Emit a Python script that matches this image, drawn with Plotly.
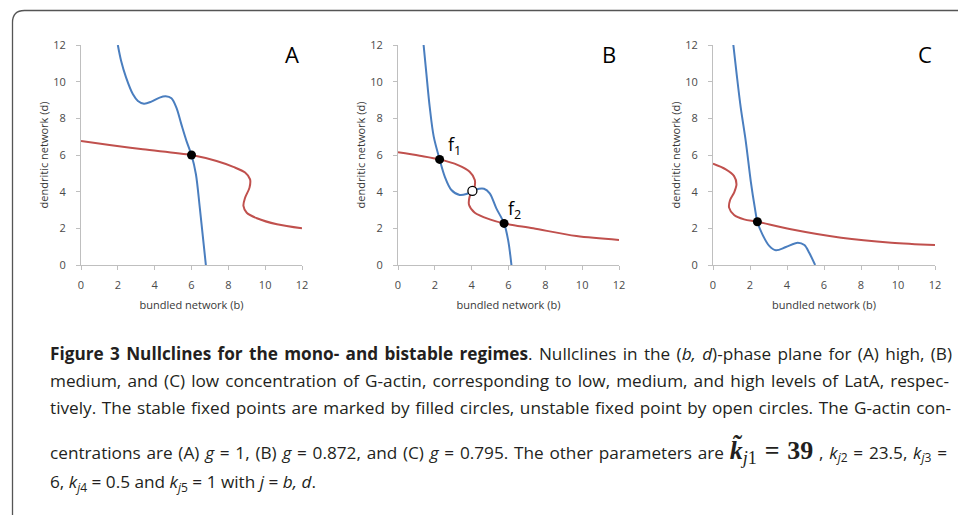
import plotly.graph_objects as go

# ---------------- data ----------------
# Panel A (high G-actin)
a_blue_b = [2.0, 2.18, 2.45, 2.82, 3.09, 3.42, 3.82, 4.27, 4.6, 4.91, 5.18, 5.45, 5.73, 6.0, 6.24, 6.45, 6.78]
a_blue_d = [12.0, 11.13, 10.22, 9.31, 8.95, 8.8, 8.91, 9.13, 9.2, 9.09, 8.58, 7.67, 6.76, 6.0, 4.95, 3.13, 0.0]
a_red_b = [0.0, 1.55, 3.36, 6.0, 7.36, 8.27, 8.91, 9.18, 9.15, 8.91, 8.82, 9.0, 9.55, 10.64, 12.0]
a_red_d = [6.76, 6.55, 6.31, 6.0, 5.67, 5.35, 5.04, 4.67, 4.22, 3.67, 3.22, 2.85, 2.55, 2.22, 2.0]
a_stable_b = [6.0]
a_stable_d = [6.0]

# Panel B (medium G-actin)
b_blue_b = [1.39, 1.54, 1.72, 1.94, 2.26, 2.54, 2.9, 3.35, 3.71, 4.04, 4.4, 4.67, 4.98, 5.34, 5.76, 5.98, 6.16]
b_blue_d = [12.0, 10.45, 8.64, 7.0, 5.76, 4.82, 4.09, 3.82, 3.87, 4.04, 4.16, 4.16, 3.91, 3.09, 2.27, 1.36, 0.0]
b_red_b = [0.0, 1.18, 2.26, 3.26, 3.89, 4.17, 4.13, 4.04, 3.89, 3.86, 4.17, 4.98, 5.76, 7.34, 9.69, 12.0]
b_red_d = [6.15, 5.96, 5.76, 5.45, 5.09, 4.64, 4.18, 4.04, 3.73, 3.27, 2.85, 2.49, 2.27, 2.0, 1.58, 1.37]
b_stable_b = [2.26, 5.76]
b_stable_d = [5.76, 2.27]
b_unstable_b = [4.04]
b_unstable_d = [4.04]
b_labels = ["f<sub>1</sub>", "f<sub>2</sub>"]
b_label_b = [3.05, 6.35]
b_label_d = [6.5, 3.0]

# Panel C (low G-actin)
c_blue_b = [1.1, 1.28, 1.5, 1.77, 2.04, 2.26, 2.4, 2.67, 3.04, 3.4, 3.94, 4.58, 4.94, 5.2, 5.52]
c_blue_d = [12.0, 10.4, 8.58, 6.76, 4.58, 3.13, 2.36, 1.67, 1.04, 0.8, 0.98, 1.22, 1.09, 0.67, 0.0]
c_red_b = [0.0, 0.69, 1.14, 1.27, 1.14, 0.92, 0.87, 1.14, 1.68, 2.4, 4.21, 6.93, 9.64, 12.0]
c_red_d = [5.53, 5.22, 4.85, 4.4, 3.95, 3.53, 3.13, 2.73, 2.49, 2.36, 1.95, 1.49, 1.22, 1.09]
c_stable_b = [2.4]
c_stable_d = [2.36]

panel_letters = ["A", "B", "C"]
tick_vals = [0, 2, 4, 6, 8, 10, 12]
x_title = "bundled network (b)"
y_title = "dendritic network (d)"

caption_lines = [
    "<b>Figure 3 Nullclines for the mono- and bistable regimes</b>. Nullclines in the (<i>b, d</i>)-phase plane for (A) high, (B)",
    "medium, and (C) low concentration of G-actin, corresponding to low, medium, and high levels of LatA, respec-",
    "tively. The stable fixed points are marked by filled circles, unstable fixed point by open circles. The G-actin con-",
    "centrations are (A) <i>g</i> = 1, (B) <i>g</i> = 0.872, and (C) <i>g</i> = 0.795. The other parameters are "
    "<span style=\"font-family:'Liberation Serif'; font-size:26px\"><b><i>k\u0303</i></b><sub><i>j</i>1</sub> <b>= 39</b></span>"
    " , <i>k</i><sub><i>j</i>2</sub> = 23.5, <i>k</i><sub><i>j</i>3</sub> =",
    "6, <i>k</i><sub><i>j</i>4</sub> = 0.5 and <i>k</i><sub><i>j</i>5</sub> = 1 with <i>j</i> = <i>b, d</i>.",
]
caption_y_px = [353, 380, 407, 451, 483]
caption_right_px = [950, 947, 949, 945]   # justified line ends (last line is ragged)

# ---------------- figure ----------------
W, H = 958, 515
CAP_X = 48
BLUE = "#4a7ebf"
RED = "#c0504d"

fig = go.Figure()

panels = [
    (a_blue_b, a_blue_d, a_red_b, a_red_d, a_stable_b, a_stable_d, [], []),
    (b_blue_b, b_blue_d, b_red_b, b_red_d, b_stable_b, b_stable_d, b_unstable_b, b_unstable_d),
    (c_blue_b, c_blue_d, c_red_b, c_red_d, c_stable_b, c_stable_d, [], []),
]
x_px = [(81, 302), (398, 619), (713, 935)]
y_px = (45, 265)

for i, (bb, bd, rb, rd, sb, sd, ub, ud) in enumerate(panels):
    xa = "x" if i == 0 else f"x{i+1}"
    ya = "y" if i == 0 else f"y{i+1}"
    fig.add_trace(go.Scatter(x=rb, y=rd, mode="lines", line=dict(color=RED, width=2, shape="spline", smoothing=0.9),
                             xaxis=xa, yaxis=ya, showlegend=False, hoverinfo="skip"))
    fig.add_trace(go.Scatter(x=bb, y=bd, mode="lines", line=dict(color=BLUE, width=2, shape="spline", smoothing=0.9),
                             xaxis=xa, yaxis=ya, showlegend=False, hoverinfo="skip"))
    fig.add_trace(go.Scatter(x=sb, y=sd, mode="markers", marker=dict(color="black", size=9),
                             xaxis=xa, yaxis=ya, showlegend=False))
    if ub:
        fig.add_trace(go.Scatter(x=ub, y=ud, mode="markers",
                                 marker=dict(color="white", size=9, line=dict(color="black", width=1.3)),
                                 xaxis=xa, yaxis=ya, showlegend=False))

axis_common = dict(range=[0, 12], tickvals=tick_vals, showgrid=False, zeroline=False, automargin=False,
                   showline=True, linecolor="#bfbfbf", linewidth=1, ticks="outside", ticklen=4,
                   tickcolor="#bfbfbf", tickfont=dict(family="Open Sans", size=11, color="#4a4a4a"),
                   fixedrange=True)

for i in range(3):
    x0, x1 = x_px[i]
    xd = [x0 / W, x1 / W]
    yd = [1 - y_px[1] / H, 1 - y_px[0] / H]
    xk = "xaxis" if i == 0 else f"xaxis{i+1}"
    yk = "yaxis" if i == 0 else f"yaxis{i+1}"
    anchor_x = "y" if i == 0 else f"y{i+1}"
    anchor_y = "x" if i == 0 else f"x{i+1}"
    fig.layout[xk] = dict(axis_common, domain=xd, anchor=anchor_x, ticklabelstandoff=6,
                          title=dict(text=x_title, font=dict(family="Open Sans", size=11, color="#383838"), standoff=10))
    fig.layout[yk] = dict(axis_common, domain=yd, anchor=anchor_y, ticklabelstandoff=8,
                          title=dict(text=y_title, font=dict(family="Open Sans", size=11, color="#383838"), standoff=2))
    fig.add_annotation(x=11.45, y=11.5, xref=anchor_y, yref=anchor_x, text=panel_letters[i],
                       showarrow=False, font=dict(family="Open Sans", size=22, color="black"))

# f1 / f2 labels
for lbl, lb, ld in zip(b_labels, b_label_b, b_label_d):
    fig.add_annotation(x=lb, y=ld, xref="x2", yref="y2", text=lbl,
                       showarrow=False, font=dict(family="Open Sans", size=18, color="black"))

# caption
for line, ypx in zip(caption_lines, caption_y_px):
    fig.add_annotation(x=CAP_X / W, y=1 - ypx / H, xref="paper", yref="paper", xanchor="left", yanchor="middle",
                       text=line, showarrow=False, align="left",
                       font=dict(family="Open Sans", size=17.2, color="#231f20"))

# rounded frame
lx, ty, r = 12.5 / W, 1 - 10.5 / H, 12
rx, ry = r / W, r / H
path = (f"M {lx},-0.01 L {lx},{ty - ry} Q {lx},{ty} {lx + rx},{ty} L 1.01,{ty}")
fig.add_shape(type="path", path=path, xref="paper", yref="paper", line=dict(color="#555555", width=1.3))

fig.update_layout(width=W, height=H, margin=dict(l=0, r=0, t=0, b=0, autoexpand=False), autosize=False,
                  paper_bgcolor="white", plot_bgcolor="white", showlegend=False)

widths = [r_ - CAP_X for r_ in caption_right_px]
post = """
document.body.style.margin = '0';
var gd = document.getElementById('{plot_id}');
var targets = %s;
var texts = gd.querySelectorAll('text.annotation-text');
var n = texts.length;
for (var i = 0; i < targets.length; i++) {
  var t = texts[n - 5 + i];
  var w = t.getBBox().width;
  var spaces = (t.textContent.match(/ /g) || []).length;
  if (spaces > 0) { t.style.wordSpacing = ((targets[i] - w) / spaces) + 'px'; }
}
""" % str(widths)

fig.write_html("out.html", post_script=post, config={"displayModeBar": False})
